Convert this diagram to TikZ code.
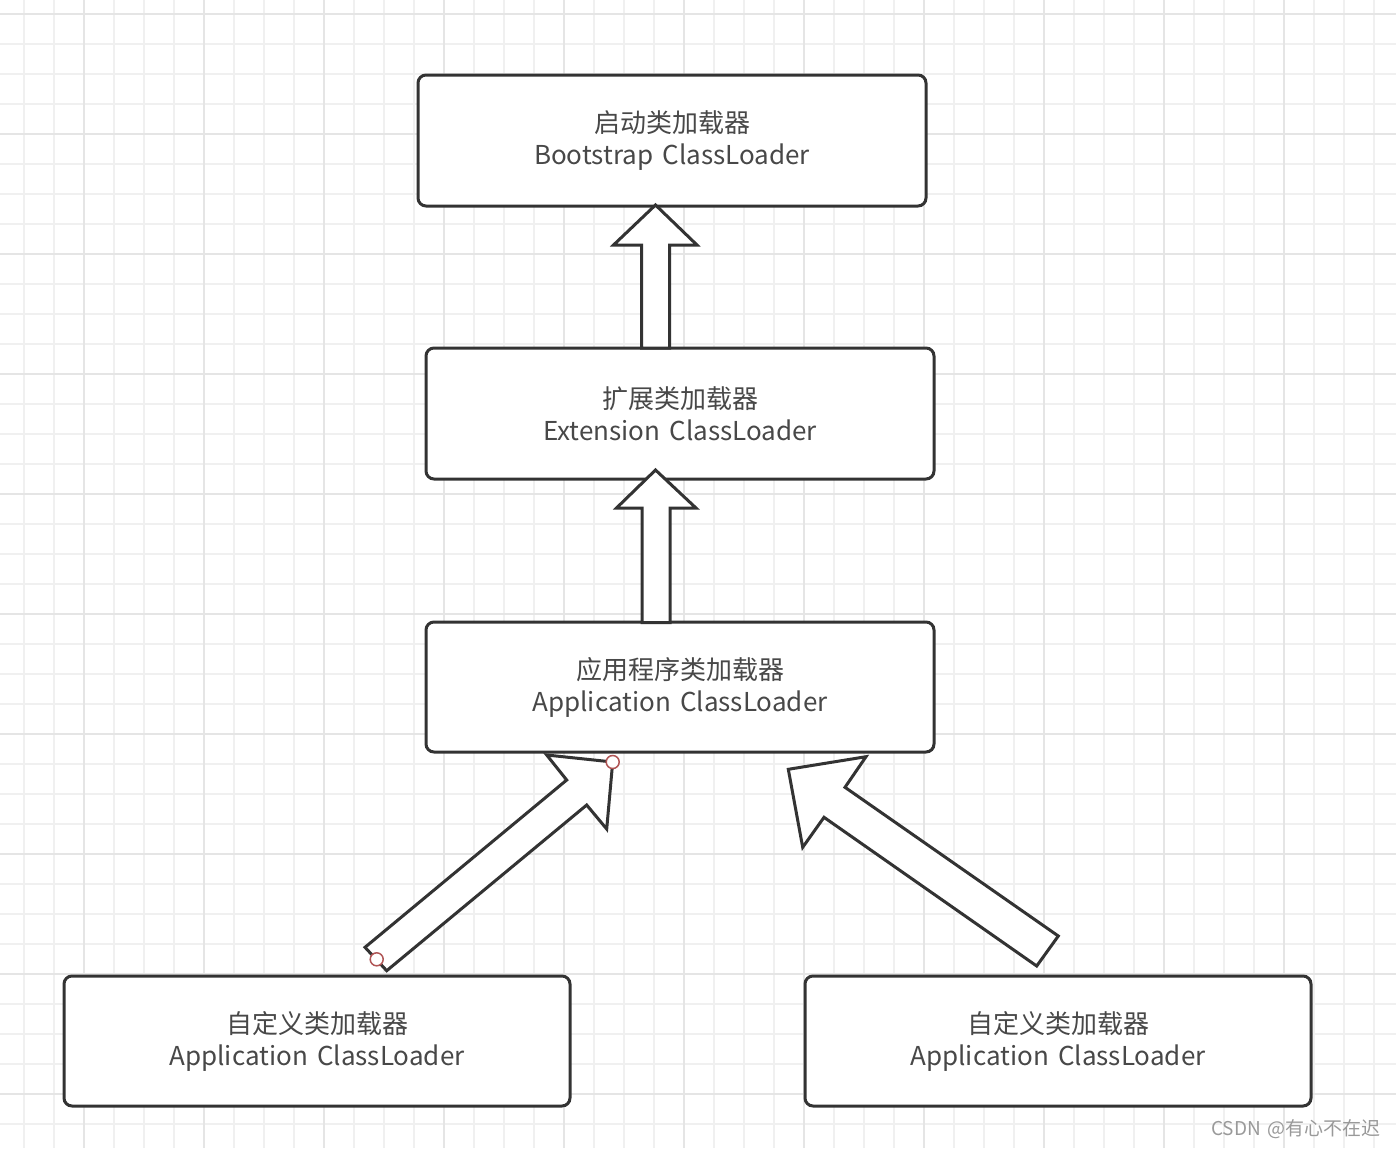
\documentclass[tikz,border=0pt]{standalone}
\usepackage{fontspec}
\setmainfont[WordSpace=1.6]{Noto Sans CJK SC}
\newfontfamily\cjk{Noto Sans CJK SC}
\definecolor{gridminor}{HTML}{F0F0F0}
\definecolor{gridmajor}{HTML}{E5E5E5}
\definecolor{edge}{HTML}{333333}
\definecolor{txt}{HTML}{484848}
\definecolor{handle}{HTML}{B05555}
\definecolor{mark}{HTML}{999999}
\tikzset{
  loader/.style={draw=edge, line width=3pt, fill=white, rounded corners=8pt,
    minimum width=508pt, minimum height=131pt, inner sep=0pt,
    align=center, text=txt, font=\fontsize{26}{32}\selectfont},
  blockarrow/.style={draw=edge, line width=3pt, fill=white, line join=miter},
  selhandle/.style={draw=handle, line width=1.5pt, fill=white}
}
\begin{document}
\begin{tikzpicture}[x=1pt, y=-1pt]
\useasboundingbox (0,0) rectangle (1396,1148);
\fill[white] (0,0) rectangle (1396,1148);
% grid
\foreach \gx in {24,54,...,1396} {\draw[gridminor, line width=1.5pt] (\gx,0) -- (\gx,1148);}
\foreach \gy in {14,44,...,1148} {\draw[gridminor, line width=1.5pt] (0,\gy) -- (1396,\gy);}
\foreach \gx in {84,204,...,1396} {\draw[gridmajor, line width=1.5pt] (\gx,0) -- (\gx,1148);}
\foreach \gy in {14,134,...,1148} {\draw[gridmajor, line width=1.5pt] (0,\gy) -- (1396,\gy);}
% boxes
\node[loader] (boot) at (672,140.5) {{\cjk 启动类加载器}\\Bootstrap ClassLoader};
\node[loader] (ext) at (680,413.5) {{\cjk 扩展类加载器}\\Extension ClassLoader};
\node[loader, minimum height=130pt] (app) at (680,687) {{\cjk 应用程序类加载器}\\Application ClassLoader};
\node[loader, minimum width=506pt, minimum height=130pt] (cus1) at (317,1041) {{\cjk 自定义类加载器}\\Application ClassLoader};
\node[loader, minimum width=506pt, minimum height=130pt] (cus2) at (1058,1041) {{\cjk 自定义类加载器}\\Application ClassLoader};
% block arrows
\draw[blockarrow] (655.5,205) -- (697,245) -- (669.5,245) -- (669.5,348) -- (641.5,348) -- (641.5,245) -- (613.5,245) -- cycle;
\draw[blockarrow] (655.5,470) -- (696,508) -- (670,508) -- (670,622.5) -- (642,622.5) -- (642,508) -- (616.5,508) -- cycle;
\draw[blockarrow] (612.7,762) -- (606.7,829) -- (586.7,805) -- (386.7,970.7) -- (365,947.3) -- (566.7,780) -- (546.7,755) -- cycle;
\draw[blockarrow] (788.3,769.3) -- (866,756.7) -- (845,787.3) -- (1058.3,936) -- (1036.7,966) -- (824,817.3) -- (802.7,847.3) -- cycle;
% selection handles
\draw[selhandle] (612.7,762) circle (6.5pt);
\draw[selhandle] (376.7,959.3) circle (6.5pt);
% watermark
\node[text=mark, font=\fontsize{19}{22}\selectfont, anchor=east, inner sep=0pt] (wm) at (1381,1129) {CSDN @有心不在迟};
\end{tikzpicture}
\end{document}
